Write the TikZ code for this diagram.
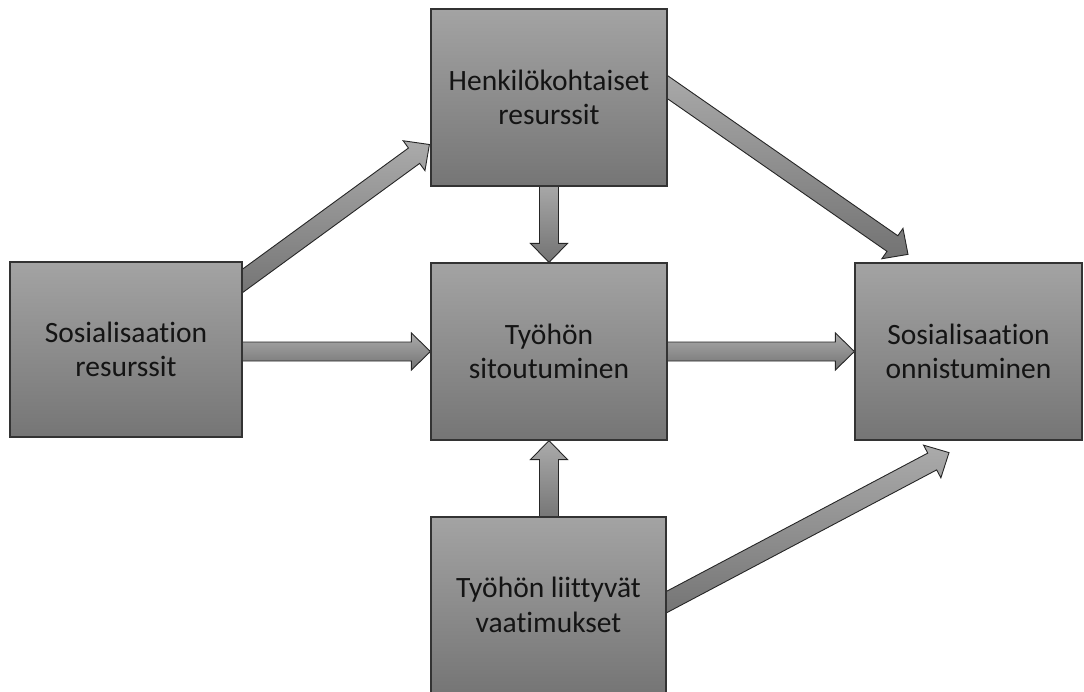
\documentclass[tikz,border=0pt]{standalone}
\usepackage{fontspec}
\setmainfont{Carlito}[Ligatures={NoCommon}]
\usetikzlibrary{calc}
\pgfdeclarelayer{bg}
\pgfsetlayers{bg,main}
\tikzset{
  box/.style={draw=black!80, line width=1.2pt, rectangle, inner sep=0pt,
    top color=black!36, bottom color=black!54, align=center,
    font=\fontsize{29.5}{34.5}\selectfont, text=black!92},
  arrowstyle/.style={draw=black!85, line width=0.9pt, line join=miter,
    top color=black!33, bottom color=black!55}
}
\newcommand\barrow[2]{%
  \coordinate (ba-s) at #1;
  \coordinate (ba-t) at #2;
  \coordinate (ba-h) at ($(ba-t)!19pt!(ba-s)$);
  \draw[arrowstyle] ($(ba-s)!9.5pt!90:(ba-t)$) -- ($(ba-h)!9.5pt!90:(ba-t)$)
    -- ($(ba-h)!18.5pt!90:(ba-t)$) -- (ba-t) -- ($(ba-h)!18.5pt!-90:(ba-t)$)
    -- ($(ba-h)!9.5pt!-90:(ba-t)$) -- ($(ba-s)!9.5pt!-90:(ba-t)$) -- cycle;
}
\begin{document}
\begin{tikzpicture}[x=1pt,y=-1pt]
\useasboundingbox (0,0) rectangle (1084,691);
\node[box, minimum width=236pt, minimum height=177pt] (hk) at (549,97.5) {Henkilökohtaiset\\resurssit};
\node[box, minimum width=232pt, minimum height=175pt] (sr) at (126,349.5) {Sosialisaation\\resurssit};
\node[box, minimum width=236pt, minimum height=177pt] (ts) at (549,351.5) {Työhön\\sitoutuminen};
\node[box, minimum width=227pt, minimum height=177pt] (on) at (968.5,351.5) {Sosialisaation\\onnistuminen};
\node[box, minimum width=235pt, minimum height=176pt] (vt) at (548.5,605) {Työhön liittyvät\\vaatimukset};
\begin{pgfonlayer}{bg}
\barrow{($(sr.east)+(-16,-57)$)}{($(hk.west)+(-1,47)$)}
\barrow{($(sr.east|-ts.west)+(-6,0)$)}{(ts.west)}
\barrow{($(hk.south)+(0,-6)$)}{(ts.north)}
\barrow{($(ts.east)+(-6,0)$)}{(on.west)}
\barrow{($(vt.north)+(0.5,6)$)}{(ts.south)}
\barrow{($(hk.east)+(-15.4,-21)$)}{($(on.north)+(-60.5,-8)$)}
\barrow{($(vt.east)+(-17.7,6.4)$)}{($(on.south)+(-19.5,12)$)}
\end{pgfonlayer}
\end{tikzpicture}
\end{document}
